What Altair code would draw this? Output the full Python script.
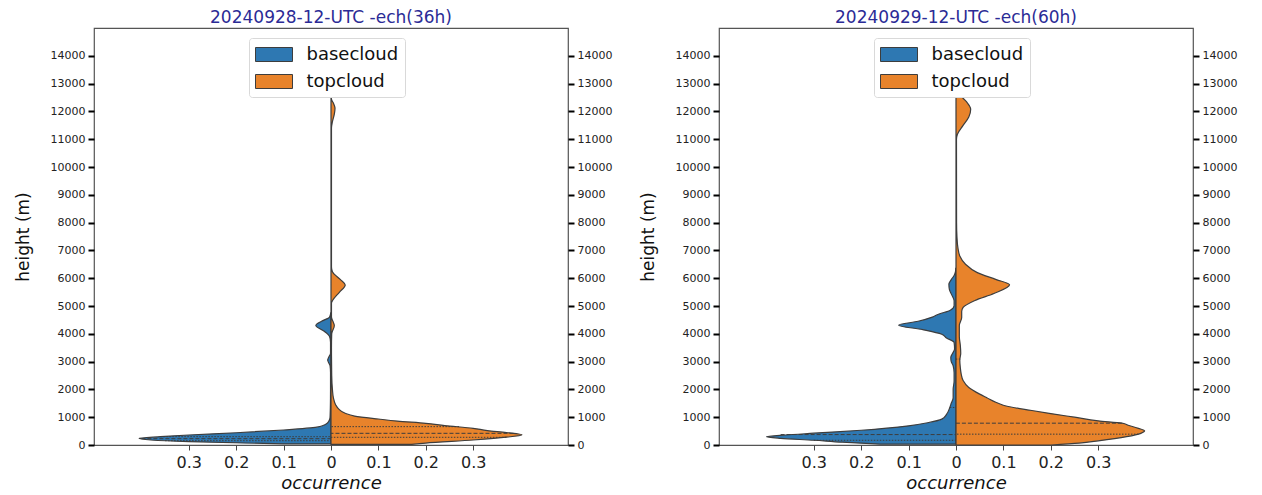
import altair as alt
import pandas as pd

SERIES = ["basecloud", "topcloud"]
BLUE = "#2e78b2"
ORANGE = "#e8832b"
OUTLINE = "#3d3d3d"
TITLE_COLOR = "#2b2b96"
FONT = "DejaVu Sans"

TITLES = ["20240928-12-UTC -ech(36h)", "20240929-12-UTC -ech(60h)"]
Y_TICKS = list(range(0, 15000, 1000))
X_TICKS = [-0.3, -0.2, -0.1, 0, 0.1, 0.2, 0.3]

# ---- panel 1 (36h) : height (m) / occurrence density
p1_base_h = [40, 120, 180, 240, 300, 360, 440, 540, 640, 740, 840, 1000, 1500, 2000, 2600,
             2850, 3000, 3060, 3150, 3300, 3700, 3900, 4100, 4300, 4450, 4600, 4750]
p1_base_d = [0.10, 0.30, 0.38, 0.405, 0.36, 0.30, 0.20, 0.10, 0.03, 0.012, 0.005, 0.002, 0.0012, 0.001, 0.001,
             0.002, 0.006, 0.007, 0.005, 0.001, 0.001, 0.003, 0.015, 0.032, 0.02, 0.003, 0.0005]
p1_top_h = [20, 70, 180, 280, 370, 450, 520, 600, 700, 780, 860, 935, 1040, 1140, 1300, 1440, 1700,
            2000, 2500, 3500, 4000, 4300, 4450, 4600, 5100, 5215, 5500, 5755, 5950, 6230, 6400,
            11400, 11630, 11900, 12120, 12300, 12410, 12500]
p1_top_d = [0.17, 0.20, 0.30, 0.37, 0.403, 0.37, 0.33, 0.30, 0.24, 0.20, 0.14, 0.10, 0.05, 0.03, 0.016, 0.01, 0.005,
            0.003, 0.0015, 0.001, 0.0015, 0.007, 0.004, 0.001, 0.001, 0.004, 0.018, 0.030, 0.02, 0.003, 0.001,
            0.001, 0.003, 0.007, 0.0085, 0.005, 0.0015, 0.0005]
p1_qbase_h = [155, 227, 300]
p1_qbase_w = [0.35, 0.40, 0.36]
p1_qtop_h = [277, 420, 660]
p1_qtop_w = [0.37, 0.385, 0.27]

# ---- panel 2 (60h)
p2_base_h = [30, 100, 170, 240, 295, 360, 425, 530, 690, 800, 930, 1100, 1350, 1500, 1700, 2000, 2300,
             2600, 2850, 3000, 3150, 3300, 3450, 3690, 3850, 3985, 4150, 4310, 4450, 4600, 4705, 4850,
             5010, 5190, 5400, 5600, 5785, 5950, 6100, 6250, 6350]
p2_base_d = [0.16, 0.24, 0.30, 0.37, 0.40, 0.36, 0.30, 0.20, 0.10, 0.06, 0.03, 0.02, 0.013, 0.01, 0.006, 0.006, 0.004,
             0.004, 0.006, 0.010, 0.011, 0.007, 0.003, 0.004, 0.02, 0.03, 0.07, 0.121, 0.08, 0.05, 0.037, 0.012,
             0.004, 0.004, 0.009, 0.014, 0.015, 0.01, 0.004, 0.001, 0.0005]
p2_top_h = [0, 70, 150, 300, 420, 510, 600, 700, 785, 870, 1000, 1130, 1240, 1385, 1530, 1700, 1830,
            2070, 2320, 2550, 2800, 3050, 3300, 3600, 3900, 4300, 4590, 4800, 4950, 5200, 5450, 5760,
            5950, 6200, 6500, 6800, 7100, 7500, 8000, 11000, 11180, 11500, 11800, 12080, 12350, 12600,
            12800, 13000]
p2_top_d = [0.20, 0.26, 0.30, 0.36, 0.39, 0.398, 0.385, 0.365, 0.35, 0.30, 0.25, 0.20, 0.16, 0.11, 0.085, 0.065, 0.05,
            0.027, 0.015, 0.011, 0.009, 0.008, 0.01, 0.009, 0.007, 0.007, 0.012, 0.012, 0.015, 0.04, 0.08, 0.113,
            0.085, 0.045, 0.02, 0.008, 0.004, 0.002, 0.0012, 0.001, 0.003, 0.015, 0.027, 0.031, 0.022, 0.008,
            0.003, 0.0008]
p2_qbase_h = [170, 375, 1350]
p2_qbase_w = [0.30, 0.37, 0.013]
p2_qtop_h = [390, 785, 3090]
p2_qtop_w = [0.385, 0.35, 0.009]

PANELS = [
    (TITLES[0], p1_base_h, p1_base_d, p1_top_h, p1_top_d, p1_qbase_h, p1_qbase_w, p1_qtop_h, p1_qtop_w),
    (TITLES[1], p2_base_h, p2_base_d, p2_top_h, p2_top_d, p2_qbase_h, p2_qbase_w, p2_qtop_h, p2_qtop_w),
]

W, H = 474, 417
yscale = alt.Scale(domain=[0, 15000], nice=False, zero=True)
xscale = alt.Scale(domain=[-0.5, 0.5], nice=False)
cscale = alt.Scale(domain=SERIES, range=[BLUE, ORANGE])

LABEL_EXPR = "datum.value == 0 ? '0' : format(abs(datum.value), '.1f')"


def y_axis(orient, title):
    return alt.Axis(
        orient=orient, values=Y_TICKS, format="d", labelFontSize=11, labelColor="#222",
        labelOverlap=False, tickSize=6, tickWidth=2, tickColor="#000", domain=False, grid=False,
        labelPadding=3, titleFontSize=17, titleFontWeight="normal", titleColor="#111",
        titlePadding=18, title=title if title else "",
    )


XAXIS = alt.Axis(
    values=X_TICKS, labelExpr=LABEL_EXPR, labelFontSize=16, labelColor="#222",
    tickSize=5, tickColor="#444", domain=False, grid=False, labelPadding=4,
    title="occurrence", titleFontSize=18, titleFontStyle="italic",
    titleFontWeight="normal", titleColor="#111", titlePadding=4,
)


def panel(title, bh, bd, th, td, qbh, qbw, qth, qtw):
    rows = []
    for h, d in zip(bh, bd):
        rows.append({"series": "basecloud", "height": h, "occ": -d})
    for h, d in zip(th, td):
        rows.append({"series": "topcloud", "height": h, "occ": d})
    df = pd.DataFrame(rows)

    qrows = []
    for i, (h, w) in enumerate(zip(qbh, qbw)):
        qrows.append({"series": "basecloud", "height": h, "occ": -w, "kind": "median" if i == 1 else "quartile"})
    for i, (h, w) in enumerate(zip(qth, qtw)):
        qrows.append({"series": "topcloud", "height": h, "occ": w, "kind": "median" if i == 1 else "quartile"})
    qdf = pd.DataFrame(qrows)

    legend = alt.Legend(
        title=None, orient="none", legendX=155, legendY=10,
        labelFontSize=18, labelColor="#111", labelOffset=22,
        symbolType="M-1.85,-0.7H1.85V0.7H-1.85Z", symbolSize=400, symbolOffset=8.5,
        symbolStrokeColor=OUTLINE, symbolStrokeWidth=1,
        padding=6, strokeColor="#d9d9d9", fillColor="white", cornerRadius=3,
        rowPadding=7,
    )

    yl = y_axis("left", "height (m)")

    area = alt.Chart(df).mark_area(
        orient="horizontal", interpolate="monotone", stroke=OUTLINE, strokeWidth=1.2,
        fillOpacity=1,
    ).encode(
        y=alt.Y("height:Q", scale=yscale, axis=yl),
        x=alt.X("occ:Q", stack=None, scale=xscale, axis=XAXIS),
        x2=alt.datum(0),
        color=alt.Color("series:N", scale=cscale, legend=legend),
    )
    med = alt.Chart(qdf).transform_filter("datum.kind == 'median'").mark_rule(
        stroke=OUTLINE, strokeWidth=1, strokeDash=[4, 2]
    ).encode(
        y=alt.Y("height:Q", scale=yscale, axis=yl),
        x=alt.X("occ:Q", scale=xscale, axis=XAXIS),
        x2=alt.datum(0),
    )
    qua = alt.Chart(qdf).transform_filter("datum.kind == 'quartile'").mark_rule(
        stroke=OUTLINE, strokeWidth=1, strokeDash=[1.5, 1.5]
    ).encode(
        y=alt.Y("height:Q", scale=yscale, axis=yl),
        x=alt.X("occ:Q", scale=xscale, axis=XAXIS),
        x2=alt.datum(0),
    )

    right = alt.Chart(pd.DataFrame({"height": [0]})).mark_point(opacity=0).encode(
        y=alt.Y("height:Q", scale=yscale, axis=y_axis("right", None))
    )

    inner = alt.layer(area, med, qua)
    return alt.layer(inner, right).resolve_scale(y="independent").properties(
        width=W, height=H,
        title=alt.TitleParams(title, fontSize=17, color=TITLE_COLOR, fontWeight="normal", offset=1),
    )


charts = [panel(*p) for p in PANELS]
chart = alt.hconcat(*charts, spacing=25).resolve_scale(color="independent").resolve_legend(
    color="independent"
).properties(padding={"left": 5, "top": 0, "right": 5, "bottom": 0}).configure(
    font=FONT
).configure_view(stroke="#555", strokeWidth=1.2)

chart.save("out.html", embed_options={"renderer": "svg", "actions": False})
